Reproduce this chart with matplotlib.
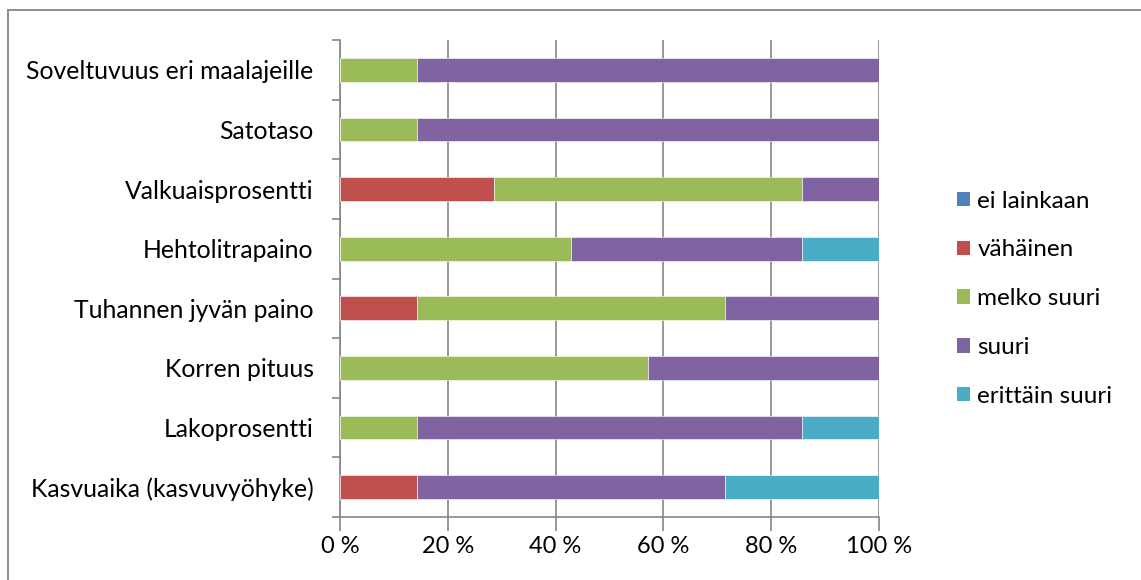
import matplotlib
matplotlib.use("Agg")
import matplotlib.pyplot as plt
from matplotlib.lines import Line2D
from matplotlib.patches import Patch
import numpy as np

plt.rcParams['font.family'] = ['Lato', 'DejaVu Sans']

# Categories listed bottom to top
categories = [
    "Kasvuaika (kasvuvyöhyke)",
    "Lakoprosentti",
    "Korren pituus",
    "Tuhannen jyvän paino",
    "Hehtolitrapaino",
    "Valkuaisprosentti",
    "Satotaso",
    "Soveltuvuus eri maalajeille",
]

series_names = ["ei lainkaan", "vähäinen", "melko suuri", "suuri", "erittäin suuri"]
series_colors = ["#4F81BD", "#C0504D", "#9BBB59", "#8064A2", "#4BACC6"]

# Answer counts per category (7 respondents)
ei_lainkaan = [0, 0, 0, 0, 0, 0, 0, 0]
vahainen = [1, 0, 0, 1, 0, 2, 0, 0]
melko_suuri = [0, 1, 4, 4, 3, 4, 1, 1]
suuri = [4, 5, 3, 2, 3, 1, 6, 6]
erittain_suuri = [2, 1, 0, 0, 1, 0, 0, 0]

x_ticks = [0, 20, 40, 60, 80, 100]
x_tick_labels = ["0 %", "20 %", "40 %", "60 %", "80 %", "100 %"]

counts = np.array([ei_lainkaan, vahainen, melko_suuri, suuri, erittain_suuri], dtype=float)
shares = counts / counts.sum(axis=0) * 100

FS = 17.8

fig = plt.figure(figsize=(11.41, 5.80), dpi=100)
ax = fig.add_axes([340 / 1141, 1 - 517 / 580, (879 - 340) / 1141, (517 - 40) / 580])

y = np.arange(len(categories))
left = np.zeros(len(categories))
for share, col in zip(shares, series_colors):
    ax.barh(y, share, left=left, height=0.4, color=col, edgecolor="white", linewidth=0.4, zorder=3)
    left += share

ax.set_xlim(0, 100)
ax.set_ylim(-0.5, len(categories) - 0.5)
ax.set_xticks(x_ticks)
ax.set_xticklabels(x_tick_labels, fontsize=17)
ax.set_yticks(y)
ax.set_yticklabels(categories, fontsize=FS)
ax.tick_params(axis="y", which="major", length=0, pad=19)
ax.set_yticks(np.arange(-0.5, len(categories), 1.0), minor=True)
ax.tick_params(axis="y", which="minor", length=6, color="#868686", width=1.2)
ax.tick_params(axis="x", which="major", length=10, color="#868686", width=1.2, pad=4)

ax.grid(axis="x", color="#868686", linewidth=1.2, zorder=0)
for side in ("top", "right"):
    ax.spines[side].set_visible(False)
for side in ("left", "bottom"):
    ax.spines[side].set_color("#868686")
    ax.spines[side].set_linewidth(1.2)

handles = [Patch(facecolor=c, edgecolor="none") for c in series_colors]
fig.legend(handles, series_names, loc="upper left", bbox_to_anchor=(947 / 1141, 1 - 181 / 580),
           frameon=False, fontsize=17.5, handlelength=0.55, handleheight=0.55,
           handletextpad=0.3, labelspacing=1.14, borderaxespad=0)

# Chart area frame
fig.add_artist(Line2D([8 / 1141, 8 / 1141], [0, 1 - 10 / 580], transform=fig.transFigure,
                      color="#868686", linewidth=1.3))
fig.add_artist(Line2D([8 / 1141, 1], [1 - 10 / 580, 1 - 10 / 580], transform=fig.transFigure,
                      color="#868686", linewidth=1.3))

fig.savefig("out.png", dpi=100, facecolor="white")
